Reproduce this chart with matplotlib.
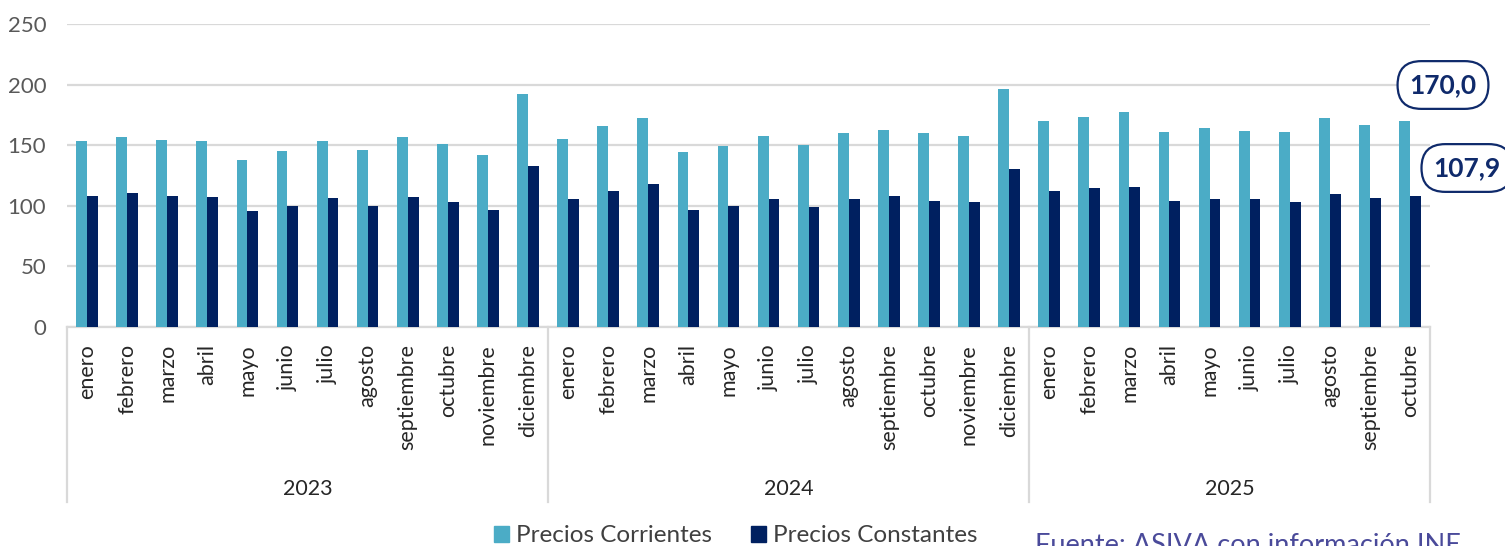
import matplotlib
matplotlib.use("Agg")
import matplotlib.pyplot as plt
from matplotlib.patches import Patch
from matplotlib.lines import Line2D
import numpy as np

months = ["enero", "febrero", "marzo", "abril", "mayo", "junio", "julio", "agosto",
          "septiembre", "octubre", "noviembre", "diciembre"]
years = ["2023", "2024", "2025"]
months_per_year = [12, 12, 10]

corrientes = [153.5, 156.5, 154.6, 153.5, 137.8, 145.0, 153.5, 146.0, 156.5, 151.2, 141.9, 192.0,
              155.4, 165.8, 172.2, 144.1, 149.0, 157.6, 150.0, 159.8, 162.8, 159.8, 157.6, 196.4,
              170.2, 173.3, 177.7, 160.6, 163.9, 161.7, 160.6, 172.2, 166.9, 170.0]
constantes = [108.0, 110.6, 108.0, 107.0, 96.0, 99.8, 106.2, 99.8, 107.0, 102.9, 96.5, 132.6,
              105.4, 112.5, 117.7, 96.5, 99.8, 105.4, 98.7, 105.4, 108.0, 104.0, 102.9, 130.4,
              112.5, 114.7, 115.8, 104.0, 105.4, 105.4, 102.9, 109.5, 106.4, 107.9]
series_names = ["Precios Corrientes", "Precios Constantes"]
yticks = [0, 50, 100, 150, 200, 250]
source_text = "Fuente: ASIVA con información INE"

c_light = "#4BACC6"
c_dark = "#002060"
grid_c = "#D9D9D9"
txt_c = "#595959"
ann_c = "#0F2A6B"

plt.rcParams['font.family'] = ['Lato', 'DejaVu Sans']

fig = plt.figure(figsize=(15.05, 5.46), dpi=100)
ax = fig.add_axes([67/1505, 1 - 327/546, (1430 - 67)/1505, (327 - 24)/546])

labels = []
for y, n in zip(years, months_per_year):
    labels += months[:n]
x = np.arange(len(labels))
w = 0.27
ax.bar(x - w/2, corrientes, width=w, color=c_light, zorder=3)
ax.bar(x + w/2, constantes, width=w, color=c_dark, zorder=3)

ax.set_xlim(-0.5, len(labels) - 0.5)
ax.set_ylim(0, 250)
ax.set_yticks(yticks)
ax.yaxis.grid(True, color=grid_c, linewidth=1.6, zorder=0)
ax.set_axisbelow(True)
for s in ["top", "right", "left"]:
    ax.spines[s].set_visible(False)
ax.spines["bottom"].set_color(grid_c)
ax.spines["bottom"].set_linewidth(1.6)
ax.tick_params(axis='y', length=0, pad=15, labelsize=16, labelcolor=txt_c)
ax.tick_params(axis='x', length=0, labelbottom=False)

tr = ax.get_xaxis_transform()
for xi, lab in zip(x, labels):
    ax.text(xi, -17/303, lab, rotation=90, ha='center', va='top', fontsize=15.5,
            color="#262626", transform=tr)

bounds = np.concatenate([[0], np.cumsum(months_per_year)]) - 0.5
for b in bounds:
    ax.add_line(Line2D([b, b], [0, -175/303], transform=tr, color=grid_c,
                       linewidth=1.6, clip_on=False))
for i, y in enumerate(years):
    ax.text((bounds[i] + bounds[i + 1]) / 2, -162/303, y, ha='center', va='center',
            fontsize=15.5, color="#262626", transform=tr)

# annotations for the last values
last = len(labels) - 1
fmt = lambda v: f"{v:.1f}".replace('.', ',')
box = dict(boxstyle="round,pad=0.45,rounding_size=0.9", fc="white", ec=ann_c, lw=1.6)
ax.annotate(fmt(corrientes[last]), xy=(last, corrientes[last]), xycoords='data',
            xytext=(1443/1505, 1 - 85/546), textcoords='figure fraction',
            ha='center', va='center', fontsize=19, fontweight='bold', color=ann_c,
            bbox=box, annotation_clip=False)
ax.annotate(fmt(constantes[last]), xy=(last, constantes[last]), xycoords='data',
            xytext=(1467/1505, 1 - 168/546), textcoords='figure fraction',
            ha='center', va='center', fontsize=19, fontweight='bold', color=ann_c,
            bbox=box, annotation_clip=False)

handles = [Patch(color=c_light), Patch(color=c_dark)]
fig.legend(handles, series_names, loc='center', bbox_to_anchor=(736/1505, 1 - 536/546),
           ncol=2, frameon=False, fontsize=17.5, handlelength=0.6, handleheight=0.6,
           handletextpad=0.3, columnspacing=1.6, labelcolor="#404040")

fig.text(1035/1505, 1 - 533/546, source_text, ha='left', va='top',
         fontsize=19.5, color="#4A4A9A")

fig.savefig("out.png", dpi=100, facecolor="white")
